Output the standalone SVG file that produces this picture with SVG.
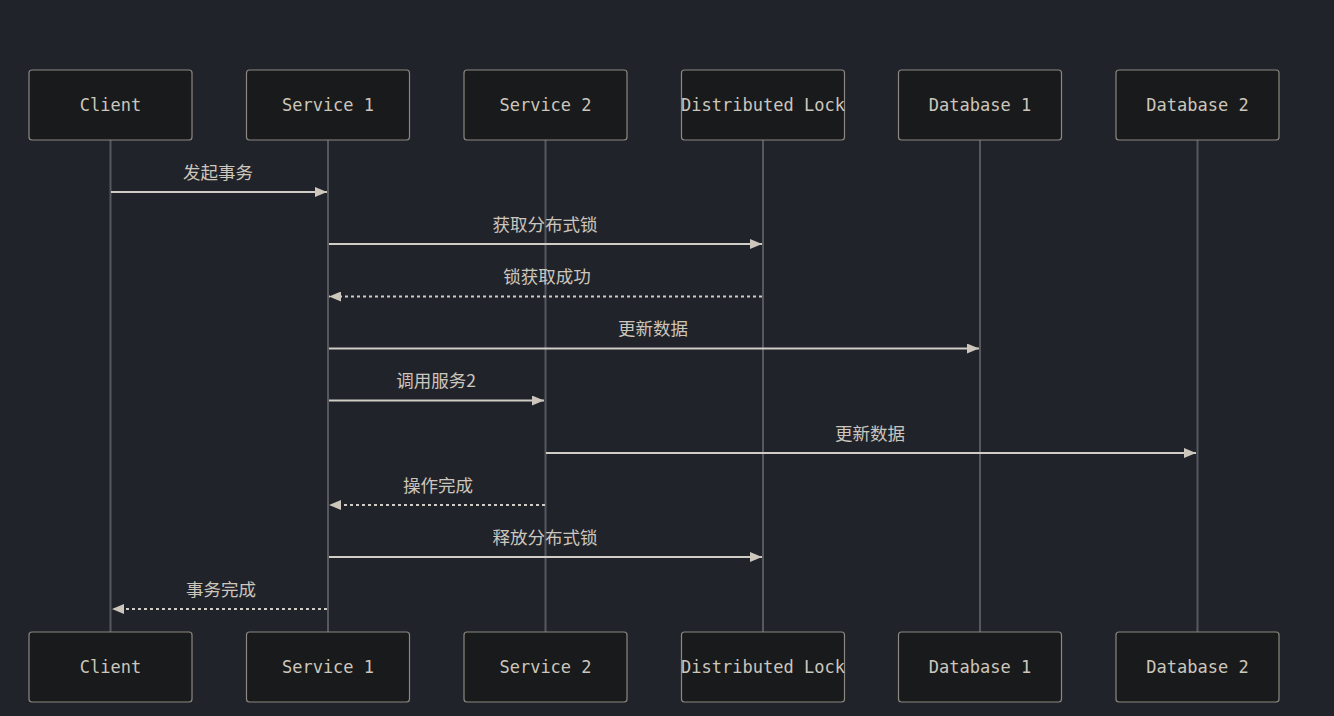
<svg xmlns="http://www.w3.org/2000/svg" width="1334" height="716" viewBox="0 0 1334 716">
<style>
.bg{fill:#21232b}
.box{fill:#181a1b;stroke:#8c8781;stroke-width:1.2}
.lt{font-family:"DejaVu Sans Mono","Liberation Mono",monospace;font-size:17px;fill:#ccc6bc;text-anchor:middle;dominant-baseline:central}
.life{stroke:#55585d;stroke-width:2}
.msg{stroke:#d0ccc6;stroke-width:2;fill:none}
.dash{stroke-dasharray:3,3}
.ml{font-family:"Noto Sans CJK SC","Noto Sans",sans-serif;font-size:17.5px;fill:#ccc6bc;text-anchor:middle}
</style>
<defs>
<marker id="ah" viewBox="0 0 12 10" refX="12" refY="5" markerWidth="12" markerHeight="10" markerUnits="userSpaceOnUse" orient="auto">
<path d="M0,0 L12,5 L0,10 z" fill="#ccc6bc"/>
</marker>
</defs>
<rect class="bg" x="0" y="0" width="1334" height="716"/>
<g id="lifelines">
<line class="life" x1="110.5" y1="140" x2="110.5" y2="632"/>
<line class="life" x1="328" y1="140" x2="328" y2="632"/>
<line class="life" x1="545.5" y1="140" x2="545.5" y2="632"/>
<line class="life" x1="763" y1="140" x2="763" y2="632"/>
<line class="life" x1="980" y1="140" x2="980" y2="632"/>
<line class="life" x1="1197.5" y1="140" x2="1197.5" y2="632"/>
</g>
<g id="client">
<rect class="box" x="29" y="70" width="163" height="70" rx="3"/><text class="lt" x="110.5" y="105">Client</text>
<rect class="box" x="29" y="632" width="163" height="70" rx="3"/><text class="lt" x="110.5" y="667">Client</text>
</g>
<g id="service1">
<rect class="box" x="246.5" y="70" width="163" height="70" rx="3"/><text class="lt" x="328" y="105">Service 1</text>
<rect class="box" x="246.5" y="632" width="163" height="70" rx="3"/><text class="lt" x="328" y="667">Service 1</text>
</g>
<g id="service2">
<rect class="box" x="464" y="70" width="163" height="70" rx="3"/><text class="lt" x="545.5" y="105">Service 2</text>
<rect class="box" x="464" y="632" width="163" height="70" rx="3"/><text class="lt" x="545.5" y="667">Service 2</text>
</g>
<g id="lock">
<rect class="box" x="681.5" y="70" width="163" height="70" rx="3"/><text class="lt" x="763" y="105">Distributed Lock</text>
<rect class="box" x="681.5" y="632" width="163" height="70" rx="3"/><text class="lt" x="763" y="667">Distributed Lock</text>
</g>
<g id="db1">
<rect class="box" x="898.5" y="70" width="163" height="70" rx="3"/><text class="lt" x="980" y="105">Database 1</text>
<rect class="box" x="898.5" y="632" width="163" height="70" rx="3"/><text class="lt" x="980" y="667">Database 1</text>
</g>
<g id="db2">
<rect class="box" x="1116" y="70" width="163" height="70" rx="3"/><text class="lt" x="1197.5" y="105">Database 2</text>
<rect class="box" x="1116" y="632" width="163" height="70" rx="3"/><text class="lt" x="1197.5" y="667">Database 2</text>
</g>
<g id="connectors">
<line class="msg" x1="111" y1="192" x2="327" y2="192" marker-end="url(#ah)"/>
<text class="ml" x="218" y="179">发起事务</text>
<line class="msg" x1="329" y1="244" x2="762" y2="244" marker-end="url(#ah)"/>
<text class="ml" x="545" y="231">获取分布式锁</text>
<line class="msg dash" x1="762" y1="296.5" x2="329" y2="296.5" marker-end="url(#ah)"/>
<text class="ml" x="547" y="283">锁获取成功</text>
<line class="msg" x1="329" y1="348.5" x2="979" y2="348.5" marker-end="url(#ah)"/>
<text class="ml" x="653" y="335">更新数据</text>
<line class="msg" x1="329" y1="400.5" x2="544" y2="400.5" marker-end="url(#ah)"/>
<text class="ml" x="436" y="387">调用服务2</text>
<line class="msg" x1="546" y1="453" x2="1196" y2="453" marker-end="url(#ah)"/>
<text class="ml" x="870" y="440">更新数据</text>
<line class="msg dash" x1="545" y1="505" x2="329" y2="505" marker-end="url(#ah)"/>
<text class="ml" x="438" y="492">操作完成</text>
<line class="msg" x1="329" y1="557" x2="762" y2="557" marker-end="url(#ah)"/>
<text class="ml" x="545" y="544">释放分布式锁</text>
<line class="msg dash" x1="327" y1="609" x2="112" y2="609" marker-end="url(#ah)"/>
<text class="ml" x="221" y="596">事务完成</text>
</g>
</svg>
